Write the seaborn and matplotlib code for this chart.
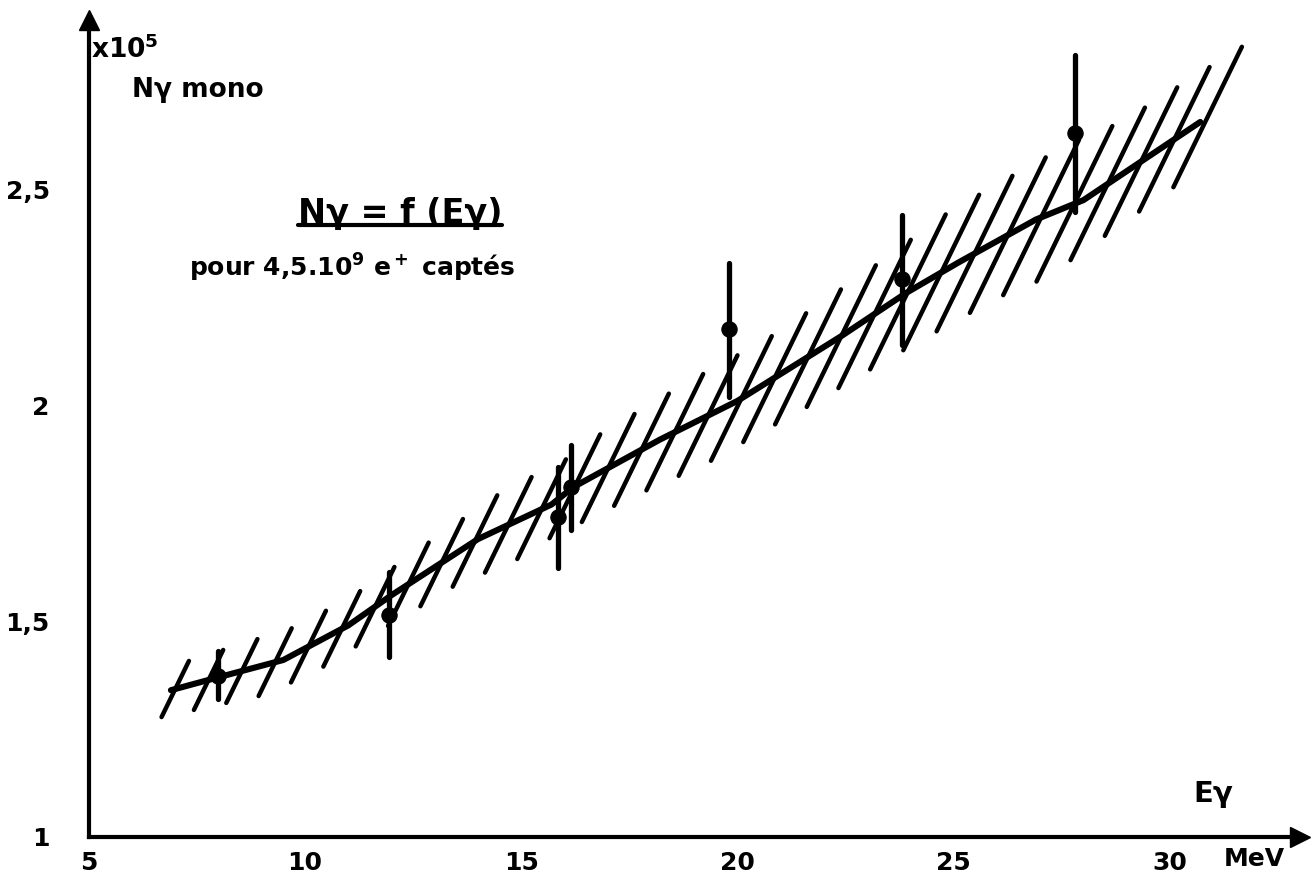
import numpy as np
import matplotlib
matplotlib.use("Agg")
import matplotlib.pyplot as plt
import seaborn as sns
from matplotlib.collections import LineCollection
from matplotlib.lines import Line2D

# ---------------- data ----------------
fit_E = [6.9, 8.0, 9.5, 11.0, 12.0, 14.0, 15.7, 16.2, 18.2, 20.0, 22.4, 23.9, 25.1, 26.9, 28.0, 30.7]
fit_N = [1.34, 1.37, 1.41, 1.49, 1.56, 1.69, 1.77, 1.81, 1.92, 2.01, 2.16, 2.26, 2.33, 2.43, 2.475, 2.656]

meas_E = [8.0, 11.95, 15.85, 16.15, 19.8, 23.8, 27.8]
meas_N = [1.372, 1.515, 1.741, 1.810, 2.176, 2.292, 2.630]
meas_lo = [1.320, 1.417, 1.623, 1.711, 2.019, 2.139, 2.447]
meas_hi = [1.430, 1.614, 1.857, 1.908, 2.329, 2.440, 2.811]

band_E = [7.0, 13.0, 17.0, 21.0, 24.0, 28.0, 31.3]
band_half = [0.065, 0.10, 0.125, 0.15, 0.18, 0.18, 0.16]

x_ticks = [5, 10, 15, 20, 25, 30]
x_labels = ["5", "10", "15", "20", "25", "30"]
y_ticks = [1, 1.5, 2, 2.5]
y_labels = ["1", "1,5", "2", "2,5"]

# ---------------- style ----------------
sns.set_theme(style="white")
plt.rcParams["font.family"] = ["DejaVu Sans"]
plt.rcParams["mathtext.default"] = "regular"
plt.rcParams["text.color"] = "black"

W, H = 1313, 874
fig = plt.figure(figsize=(W / 100, H / 100), dpi=100)
left_px, right_px, bottom_px, top_px = 88.75, 1300, 837, 20
ax = fig.add_axes([left_px / W, (H - bottom_px) / H, (right_px - left_px) / W, (bottom_px - top_px) / H])
px_per_x = 43.25
px_per_y = 431.8
ax.set_xlim(5, 5 + (right_px - left_px) / px_per_x)
ax.set_ylim(1, 1 + (bottom_px - top_px) / px_per_y)

# hatched band: slanted strokes centred on the fit curve
hatch_E = np.arange(7.0, 31.35, 0.77)
hatch_c = np.interp(hatch_E, fit_E, fit_N)
ext = hatch_E > fit_E[-1]
s = (fit_N[-1] - fit_N[-2]) / (fit_E[-1] - fit_E[-2])
hatch_c[ext] = fit_N[-1] + s * (hatch_E[ext] - fit_E[-1])
hh = np.interp(hatch_E, band_E, band_half)
ang = np.deg2rad(64)
dx = hh * px_per_y / np.tan(ang) / px_per_x
segs = [[(e - d, c - h), (e + d, c + h)] for e, c, h, d in zip(hatch_E, hatch_c, hh, dx)]
ax.add_collection(LineCollection(segs, colors="black", linewidths=3.2, capstyle="round"))

# fit curve
sns.lineplot(x=fit_E, y=fit_N, ax=ax, color="black", lw=4.4, sort=False,
             solid_capstyle="round", solid_joinstyle="round")

# error bars and points
ax.vlines(meas_E, meas_lo, meas_hi, colors="black", linewidth=3.8, capstyle="round")
sns.scatterplot(x=meas_E, y=meas_N, ax=ax, color="black", s=120, edgecolor="black", zorder=5)

# axes
for side in ["top", "right"]:
    ax.spines[side].set_visible(False)
for side in ["left", "bottom"]:
    ax.spines[side].set_linewidth(3)
    ax.spines[side].set_color("black")
ax.plot(1, 0, marker=">", color="black", markersize=14, transform=ax.transAxes, clip_on=False)
ax.plot(0, 1, marker="^", color="black", markersize=14, transform=ax.transAxes, clip_on=False)

ax.set_xticks(x_ticks)
ax.set_xticklabels(x_labels)
ax.set_yticks(y_ticks)
ax.set_yticklabels(y_labels)
ax.tick_params(axis="both", direction="in", length=15, width=3, colors="black",
               labelsize=18, labelcolor="black")
for lab in ax.get_xticklabels() + ax.get_yticklabels():
    lab.set_fontweight("bold")
ax.tick_params(axis="x", pad=10)
ax.tick_params(axis="y", pad=28)
ax.grid(False)

# labels
ax.text(5.05, 2.823, "x10$^5$", fontsize=19, fontweight="bold", ha="left", va="center", color="black")
ax.text(6.0, 2.73, "Nγ mono", fontsize=19, fontweight="bold", ha="left", va="center", color="black")
ax.text(30.55, 1.10, "Eγ", fontsize=21, fontweight="bold", ha="left", va="center", color="black")
ax.text(31.25, 0.948, "MeV", fontsize=18, fontweight="bold", ha="left", va="center",
        clip_on=False, color="black")

title = ax.text(12.2, 2.445, "Nγ = f (Eγ)", fontsize=24, fontweight="bold", ha="center",
                va="center", color="black")
ax.text(11.1, 2.318, "pour 4,5.10$^9$ e$^+$ captés", fontsize=18, fontweight="bold",
        ha="center", va="center", color="black")

fig.canvas.draw()
bb = title.get_window_extent()
yline = bb.y0 + 5
fig.add_artist(Line2D([bb.x0 / W, bb.x1 / W], [yline / H, yline / H],
                      transform=fig.transFigure, color="black", lw=3))

fig.savefig("out.png", dpi=100, facecolor="white")
